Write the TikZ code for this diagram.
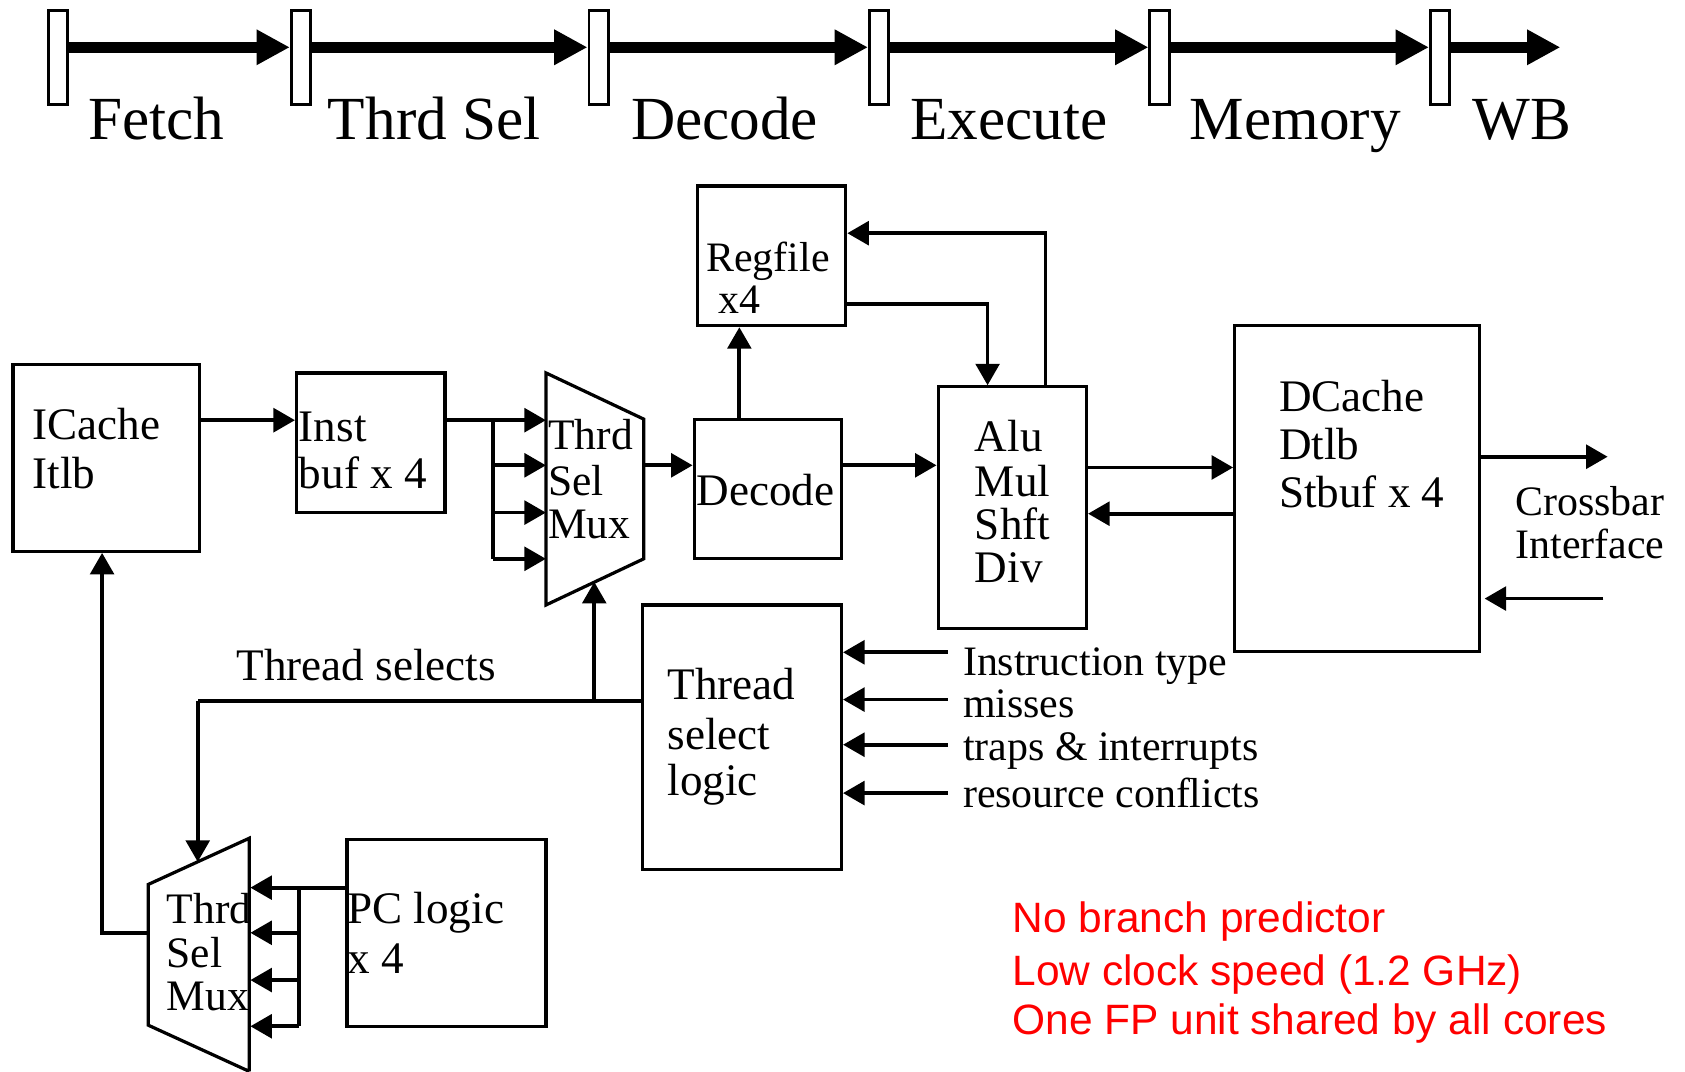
\documentclass[tikz,border=0pt]{standalone}
\usepackage{fontspec}
\setmainfont{Liberation Serif}
\newfontfamily\notefont{Liberation Sans}
\usetikzlibrary{arrows.meta}

\begin{document}
\begin{tikzpicture}[x=1pt,y=-1pt,
  blk/.style={draw, line width=3pt, inner sep=0pt, fill=white},
  preg/.style={draw, line width=2.6pt, fill=white, inner sep=0pt,
               minimum width=18pt, minimum height=87pt},
  pipe/.style={line width=10pt, -{Triangle[length=31pt,width=31pt]}},
  conn/.style={line width=3.5pt, -{Triangle[length=20pt,width=22pt]}},
  wire/.style={line width=3.5pt},
  mux/.style={line width=3pt, line join=miter},
  stage/.style={anchor=base west, inner sep=0pt, font=\fontsize{57}{60}\selectfont},
  lbl/.style={anchor=base west, inner sep=0pt, font=\fontsize{42}{46}\selectfont},
  mtxt/.style={anchor=base west, inner sep=0pt, font=\fontsize{40.5}{44}\selectfont},
  small/.style={anchor=base west, inner sep=0pt, font=\fontsize{39}{43}\selectfont},
  note/.style={anchor=base west, inner sep=0pt, text=red,
               font=\notefont\fontsize{39.5}{44}\selectfont}]

\path[use as bounding box] (0,0) rectangle (1568,997);

% ---------------- pipeline stage bar ----------------
\foreach \n/\x in {1/54, 2/280, 3/557, 4/818, 5/1079, 6/1340}
  \node[preg] (pr\n) at (\x,53.5) {};
\coordinate (pend) at (1452,44);
\coordinate (prow) at (0,44);
\foreach \a/\b in {1/2, 2/3, 3/4, 4/5, 5/6}
  \draw[pipe] (pr\a.east |- prow) -- (pr\b.west |- prow);
\draw[pipe] (pr6.east |- prow) -- (pend);

\node[stage] (sFetch)  at (82,130)   {Fetch};
\node[stage] (sThrd)   at (305,130)  {Thrd Sel};
\node[stage] (sDecode) at (587,130)  {Decode};
\node[stage] (sExec)   at (847,130)  {Execute};
\node[stage] (sMem)    at (1107,130) {Memory};
\node[stage] (sWB)     at (1370,130) {WB};

% ---------------- blocks ----------------
\node[blk, minimum width=174pt, minimum height=174pt] (icache)  at (99,426)    {};
\node[blk, minimum width=138pt, minimum height=130pt] (instbuf) at (345,412)   {};
\node[blk, minimum width=137pt, minimum height=130pt] (decode)  at (714.5,455) {};
\node[blk, minimum width=138pt, minimum height=130pt] (regfile) at (718,238)   {};
\node[blk, minimum width=138pt, minimum height=225pt] (alu)     at (942,472.5) {};
\node[blk, minimum width=228pt, minimum height=303pt] (dcache)  at (1263,454.5){};
\node[blk, minimum width=185pt, minimum height=246pt] (tsl)     at (690.5,686) {};
\node[blk, minimum width=185pt, minimum height=174pt] (pclogic) at (415.5,868) {};

% thread select muxes (trapezoids)
\coordinate (m1a) at (508,347);
\coordinate (m1b) at (599,390);
\coordinate (m1c) at (599,520);
\coordinate (m1d) at (508,563);
\draw[mux] (m1a) -- (m1b) -- (m1c) -- (m1d) -- cycle;

\coordinate (m2a) at (138,823);
\coordinate (m2b) at (232,780);
\coordinate (m2c) at (232,997);
\coordinate (m2d) at (138,954);
\draw[mux] (m2c) -- (m2d) -- (m2a) -- (m2b) -- (m2c);

% ---------------- block texts ----------------
\node[lbl] (tIC1) at (30,409)  {ICache};
\node[lbl] (tIC2) at (30,455)  {Itlb};
\node[lbl] (tIB1) at (278,411) {Inst};
\node[lbl] (tIB2) at (278,455) {buf x 4};
\node[mtxt] (tM11) at (510,418) {Thrd};
\node[mtxt] (tM12) at (510,461) {Sel};
\node[mtxt] (tM13) at (510,501) {Mux};
\node[lbl] (tDec) at (648,470) {Decode};
\node[small] (tRF1) at (657,253) {Regfile};
\node[small] (tRF2) at (668,292) {x4};
\node[lbl] (tA1) at (907,420) {Alu};
\node[lbl] (tA2) at (907,462) {Mul};
\node[lbl] (tA3) at (907,502) {Shft};
\node[lbl] (tA4) at (907,542) {Div};
\node[lbl] (tD1) at (1190,383) {DCache};
\node[lbl] (tD2) at (1190,428) {Dtlb};
\node[lbl] (tD3) at (1190,472) {Stbuf x 4};
\node[small] (tX1) at (1410,480) {Crossbar};
\node[small] (tX2) at (1410,520) {Interface};
\node[lbl] (tT1) at (621,651) {Thread};
\node[lbl] (tT2) at (621,697) {select};
\node[lbl] (tT3) at (621,740) {logic};
\node[small] (tI1) at (896,629) {Instruction type};
\node[small] (tI2) at (896,668) {misses};
\node[small] (tI3) at (896,708) {traps \& interrupts};
\node[small] (tI4) at (896,751) {resource conflicts};
\node[lbl] (tSel) at (220,633) {Thread selects};
\node[mtxt] (tM21) at (155,859) {Thrd};
\node[mtxt] (tM22) at (155,900) {Sel};
\node[mtxt] (tM23) at (155,940) {Mux};
\node[lbl] (tPC1) at (323,859) {PC logic};
\node[lbl] (tPC2) at (323,906) {x 4};

% ---------------- connectors ----------------
\coordinate (y391) at (0,391);
\coordinate (y433) at (0,433);
\coordinate (y477) at (0,477);
\coordinate (y520) at (0,520);
\coordinate (split1) at (459,391);

% fetch path
\draw[conn] (icache.east |- y391) -- (instbuf.west |- y391);
\draw[wire] (instbuf.east |- y391) -- (split1) -- (split1 |- y520);
\draw[conn] (split1) -- (m1a |- y391);
\foreach \r in {y433, y477, y520}
  \draw[conn] (split1 |- \r) -- (m1a |- \r);

% decode / register file / execute
\draw[conn] (m1b |- y433) -- (decode.west |- y433);
\coordinate (xRF) at (688,0);
\draw[conn] (decode.north -| xRF) -- (regfile.south -| xRF);
\coordinate (yRFo) at (0,283);
\coordinate (xAin) at (919,0);
\draw[conn] (regfile.east |- yRFo) -| (alu.north -| xAin);
\coordinate (yWB) at (0,217);
\coordinate (xAout) at (973,0);
\draw[conn] (alu.north -| xAout) |- (regfile.east |- yWB);
\draw[conn] (decode.east |- y433) -- (alu.west |- y433);

% memory
\coordinate (y435) at (0,435);
\coordinate (y478) at (0,478);
\draw[conn] (alu.east |- y435) -- (dcache.west |- y435);
\draw[conn] (dcache.west |- y478) -- (alu.east |- y478);
\coordinate (xbOut) at (1496,425);
\coordinate (xbIn) at (1492,557);
\draw[conn] (dcache.east |- xbOut) -- (xbOut);
\draw[conn] (xbIn) -- ([xshift=3pt]dcache.east |- xbIn);

% thread select inputs
\coordinate (xIn) at (882,0);
\foreach \yy in {607, 651, 693, 738} {
  \coordinate (inr) at (0,\yy);
  \draw[conn] (xIn |- inr) -- (tsl.east |- inr);
}

% thread selects
\coordinate (ySel) at (0,652);
\coordinate (jSel) at (553,652);
\coordinate (cSel) at (184,652);
\draw[wire] (tsl.west |- ySel) -- (cSel);
\draw[conn] (cSel) -- (184,802);
\draw[conn] (jSel) -- (553,541.5);

% next fetch address
\coordinate (pcOut) at (0,868);
\coordinate (xFb) at (95,0);
\draw[conn] (m2a |- pcOut) -| (icache.south -| xFb);

% PC logic into the lower mux
\coordinate (y826) at (0,826);
\coordinate (split2) at (278,826);
\draw[wire] (pclogic.west |- y826) -- (split2) -- (278,955);
\draw[conn] (split2) -- ([xshift=1pt]m2b |- y826);
\foreach \yy in {868, 912, 955} {
  \coordinate (pcr) at (0,\yy);
  \draw[conn] (split2 |- pcr) -- ([xshift=1pt]m2b |- pcr);
}

% ---------------- notes ----------------
\node[note] (n1) at (942,868) {No branch predictor};
\node[note] (n2) at (942,917) {Low clock speed (1.2 GHz)};
\node[note] (n3) at (942,963) {One FP unit shared by all cores};

\end{tikzpicture}
\end{document}
